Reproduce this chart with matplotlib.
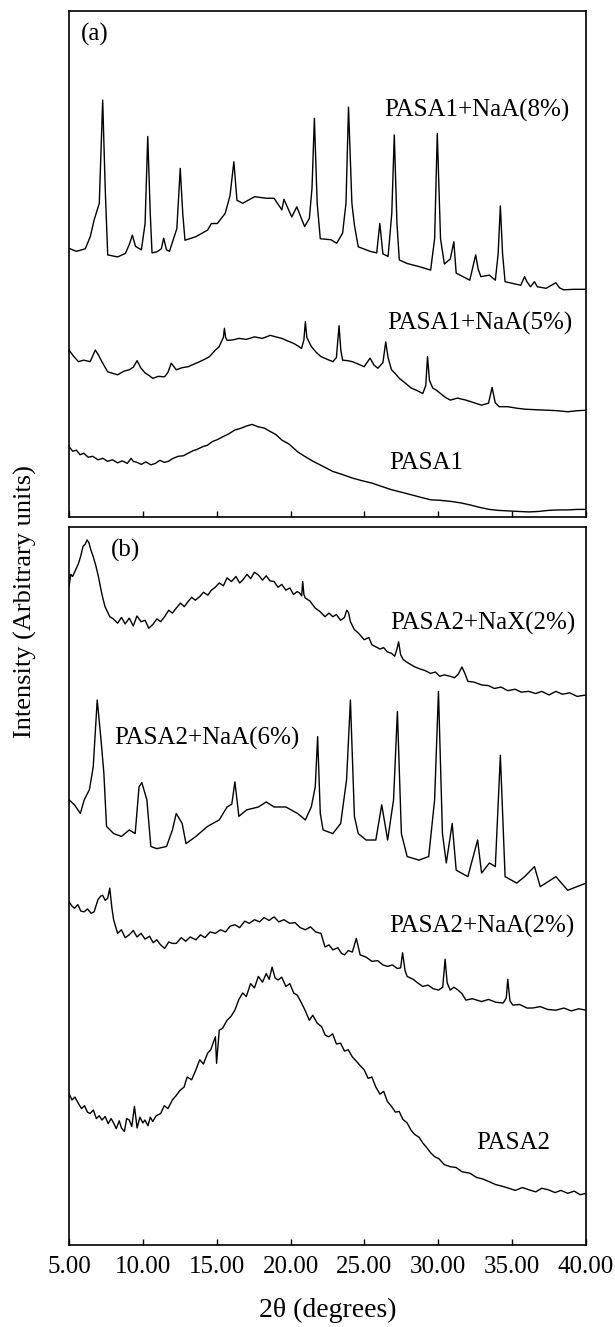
import matplotlib
matplotlib.use("Agg")
from matplotlib import pyplot as plt
from matplotlib.ticker import FormatStrFormatter

plt.rcParams['font.family'] = ['Liberation Serif', 'DejaVu Serif']

# panel (a)
a8_x = [5.00, 5.50, 6.10, 6.45, 6.70, 7.05, 7.28, 7.45, 7.62, 8.29, 8.82, 9.10, 9.29, 9.50, 9.90,
        10.15, 10.33, 10.50, 10.62, 10.94, 11.25, 11.41, 11.60, 11.80, 12.30, 12.53, 12.70, 12.85,
        13.59, 14.38, 14.64, 15.04, 15.57, 15.90, 16.16, 16.37, 16.76, 17.56, 18.35, 18.88, 19.41,
        19.55, 20.08, 20.42, 20.95, 21.27, 21.45, 21.61, 21.80, 22.01, 22.73, 23.12, 23.52, 23.75,
        23.92, 24.15, 24.32, 24.58, 25.38, 25.83, 26.04, 26.25, 26.60, 26.85, 27.02, 27.20, 27.36,
        27.89, 28.69, 29.48, 29.75, 29.93, 30.15, 30.41, 30.81, 31.05, 31.21, 32.13, 32.53, 32.70,
        32.88, 33.46, 33.86, 34.05, 34.20, 34.35, 34.52, 35.58, 35.84, 36.00, 36.24, 36.51, 36.70,
        37.30, 37.96, 38.20, 38.49, 39.20, 40.00]
a8_y = [53.1, 52.5, 53.0, 55.5, 58.7, 62.0, 82.4, 65.0, 51.8, 51.4, 52.1, 54.0, 55.7, 53.5, 52.8,
        58.0, 75.2, 60.0, 52.2, 52.4, 53.0, 55.1, 52.8, 52.5, 57.0, 68.9, 60.0, 54.7,
        55.4, 56.7, 58.0, 58.0, 60.0, 63.5, 70.2, 62.6, 62.0, 63.3, 63.0, 63.0, 60.7,
        62.8, 59.3, 61.3, 57.4, 59.0, 65.0, 78.8, 62.0, 55.0, 54.8, 54.1, 56.1, 62.0,
        81.0, 62.0, 57.7, 53.4, 52.5, 52.2, 58.0, 52.0, 51.5, 60.0, 75.5, 58.0, 50.8,
        50.1, 49.5, 48.8, 55.0, 75.8, 55.0, 50.0, 51.0, 54.4, 48.2, 46.8, 51.8, 49.0,
        47.5, 47.8, 46.8, 52.0, 61.5, 52.0, 46.5, 45.8, 47.5, 46.5, 45.5, 46.5, 45.5,
        45.2, 46.3, 45.3, 44.9, 45.0, 45.0]

a5_x = [5.00, 5.30, 5.64, 6.00, 6.43, 6.60, 6.78, 7.00, 7.17, 7.40,
        7.62, 7.95, 8.29, 8.70, 9.08, 9.35, 9.61, 9.85, 10.14, 10.40,
        10.67, 11.05, 11.47, 11.70, 11.92, 12.26, 12.65, 13.06, 13.45, 13.85,
        14.20, 14.51, 14.91, 15.15, 15.31, 15.45, 15.52, 15.60, 15.70, 16.10,
        16.50, 17.00, 17.56, 18.10, 18.62, 19.00, 19.41, 19.80, 20.21, 20.50,
        20.74, 20.90, 21.00, 21.10, 21.40, 21.75, 22.06, 22.45, 22.86, 23.10,
        23.28, 23.40, 23.52, 23.85, 24.18, 24.60, 24.98, 25.38, 25.65, 25.91,
        26.25, 26.44, 26.60, 26.83, 27.10, 27.36, 27.75, 28.16, 28.55, 28.95,
        29.15, 29.27, 29.40, 29.62, 29.90, 30.15, 30.50, 30.81, 31.30, 31.87,
        32.40, 32.93, 33.40, 33.64, 33.85, 34.12, 34.70, 35.31, 35.90, 36.60,
        37.43, 38.10, 38.76, 39.40, 40.00]
a5_y = [33.0, 31.8, 30.7, 31.0, 30.7, 31.8, 33.0, 32.0, 31.0, 29.8,
        28.7, 28.4, 28.1, 28.8, 29.1, 29.6, 30.9, 29.5, 28.5, 28.0,
        27.4, 27.8, 27.7, 28.6, 30.4, 29.1, 29.5, 29.7, 30.2, 30.7,
        31.2, 31.7, 33.0, 33.6, 34.6, 35.5, 37.3, 35.5, 34.9, 35.0,
        35.3, 35.1, 35.6, 35.3, 35.9, 35.6, 35.3, 34.8, 34.3, 33.8,
        33.3, 35.0, 38.6, 35.5, 33.7, 32.5, 31.7, 31.2, 30.7, 31.5,
        37.8, 33.0, 31.0, 30.9, 30.7, 30.2, 29.7, 31.4, 30.0, 29.4,
        30.5, 34.6, 31.5, 29.1, 28.3, 27.4, 26.5, 25.5, 25.0, 24.4,
        26.0, 31.7, 27.0, 25.5, 25.0, 24.4, 23.6, 23.1, 23.5, 23.1,
        22.6, 22.1, 22.5, 25.6, 22.6, 21.8, 21.8, 21.5, 21.3, 21.2,
        21.1, 21.0, 20.8, 21.0, 21.1]

a1_x = [5.00, 5.25, 5.50, 5.75, 6.00, 6.30, 6.60, 6.96, 7.30, 7.60,
        7.95, 8.29, 8.60, 8.95, 9.20, 9.35, 9.60, 9.90, 10.20, 10.54,
        10.85, 11.15, 11.45, 11.73, 12.05, 12.40, 12.75, 13.06, 13.40, 13.70,
        14.05, 14.38, 14.70, 15.05, 15.44, 15.80, 16.23, 16.60, 17.03, 17.40,
        17.82, 18.20, 18.62, 19.00, 19.41, 19.90, 20.47, 21.00, 21.53, 22.20,
        22.86, 23.50, 24.18, 24.80, 25.51, 26.20, 26.83, 27.50, 28.16, 28.80,
        29.48, 30.10, 30.81, 31.50, 32.13, 32.80, 33.46, 34.10, 34.78, 35.40,
        36.11, 36.80, 37.43, 38.10, 38.76, 39.40, 40.00]
a1_y = [13.9, 13.0, 13.2, 12.3, 12.6, 11.8, 12.0, 11.3, 11.6, 11.0,
        11.3, 10.7, 11.1, 10.6, 11.6, 11.0, 10.8, 10.4, 10.9, 10.3,
        10.6, 11.2, 10.8, 11.0, 11.6, 12.0, 12.1, 12.6, 13.1, 13.4,
        13.9, 14.2, 14.9, 15.3, 15.9, 16.4, 17.2, 17.5, 18.0, 18.3,
        17.8, 17.6, 16.9, 16.3, 15.2, 14.4, 12.9, 11.9, 11.0, 10.0,
        9.0, 8.4, 7.7, 7.2, 6.7, 6.0, 5.4, 4.9, 4.4, 3.9,
        3.4, 3.3, 3.1, 2.8, 2.4, 1.9, 1.5, 1.3, 1.2, 1.1,
        1.0, 1.1, 1.3, 1.4, 1.4, 1.5, 1.5]

# panel (b)
bx_x = [5.00, 5.12, 5.24, 5.40, 5.64, 5.80, 5.95, 6.10, 6.22, 6.35,
        6.48, 6.65, 6.83, 7.00, 7.17, 7.30, 7.44, 7.60, 7.76, 8.00,
        8.29, 8.55, 8.80, 9.08, 9.35, 9.60, 9.88, 10.15, 10.40, 10.67,
        10.95, 11.20, 11.47, 11.75, 12.00, 12.26, 12.55, 12.80, 13.06, 13.30,
        13.55, 13.85, 14.10, 14.40, 14.64, 14.90, 15.17, 15.45, 15.70, 16.00,
        16.30, 16.55, 16.76, 17.05, 17.30, 17.55, 17.82, 18.10, 18.35, 18.60,
        18.88, 19.15, 19.40, 19.68, 19.95, 20.20, 20.45, 20.61, 20.75, 20.82,
        20.90, 21.00, 21.30, 21.67, 22.00, 22.33, 22.60, 22.86, 23.10, 23.39,
        23.65, 23.80, 23.92, 24.05, 24.32, 24.60, 24.98, 25.30, 25.50, 25.77,
        26.05, 26.30, 26.55, 26.83, 27.05, 27.20, 27.31, 27.45, 27.63, 28.00,
        28.42, 28.80, 29.10, 29.48, 29.80, 30.10, 30.40, 30.81, 31.10, 31.35,
        31.60, 31.80, 32.00, 32.40, 32.93, 33.40, 33.80, 34.25, 34.70, 35.20,
        35.60, 36.11, 36.60, 37.00, 37.50, 37.96, 38.40, 38.90, 39.40, 40.00]
bx_y = [91.7, 93.4, 93.1, 93.8, 94.9, 96.0, 97.3, 97.6, 98.2, 97.8,
        96.8, 95.8, 94.5, 93.0, 91.2, 90.0, 88.9, 88.2, 87.5, 87.2,
        86.6, 87.4, 86.5, 87.3, 86.2, 87.6, 86.8, 87.0, 85.9, 86.4,
        87.2, 86.8, 87.5, 88.4, 88.0, 88.7, 89.4, 88.9, 89.6, 90.2,
        89.8, 90.3, 90.9, 90.5, 91.2, 91.6, 92.2, 91.8, 92.9, 92.4,
        93.1, 92.2, 92.6, 93.4, 92.8, 93.7, 93.3, 92.6, 93.2, 92.5,
        92.4, 91.6, 92.0, 91.2, 91.5, 90.6, 91.0, 90.8, 90.4, 92.4,
        90.6, 90.1, 89.7, 88.7, 88.2, 87.5, 88.0, 87.5, 87.8, 87.0,
        87.4, 88.4, 88.1, 86.8, 85.7, 85.2, 84.3, 84.6, 83.6, 83.3,
        83.0, 83.2, 82.6, 82.4, 82.0, 83.0, 84.0, 82.2, 81.5, 81.0,
        80.5, 80.2, 80.0, 79.6, 79.8, 79.2, 79.4, 79.2, 79.0, 79.5,
        80.5, 79.6, 78.5, 78.4, 78.0, 77.9, 77.5, 77.7, 77.2, 77.4,
        77.0, 77.1, 76.8, 77.1, 76.6, 77.1, 76.7, 76.9, 76.4, 76.6]

b6_x = [5.00, 5.37, 5.77, 6.03, 6.38, 6.64, 6.91, 7.17, 7.36, 7.54, 8.02, 8.55, 9.08, 9.48, 9.74,
        9.93, 10.27, 10.54, 10.94, 11.60, 12.00, 12.26, 12.66, 12.92, 13.59, 14.38, 15.17, 15.70,
        16.02, 16.23, 16.50, 17.03, 17.82, 18.35, 18.88, 19.68, 20.47, 21.00, 21.40, 21.67, 21.83,
        22.01, 22.20, 22.86, 23.39, 23.79, 24.05, 24.32, 24.58, 25.11, 25.77, 26.17, 26.57, 26.97,
        27.23, 27.50, 27.89, 28.69, 29.35, 29.75, 30.01, 30.28, 30.54, 30.94, 31.21, 32.00, 32.66,
        32.93, 33.46, 33.86, 34.20, 34.52, 35.31, 35.84, 36.51, 36.90, 37.96, 38.76, 40.00]
b6_y = [62.0, 61.3, 60.1, 62.0, 63.4, 66.6, 75.9, 70.3, 65.7, 58.3, 57.3, 56.9, 57.8, 57.3, 63.8,
        64.4, 62.0, 55.5, 55.2, 55.5, 57.8, 60.1, 58.7, 55.9, 56.9, 58.3, 59.2, 61.0,
        61.4, 64.5, 59.7, 60.6, 61.0, 61.7, 61.0, 61.0, 60.1, 59.2, 61.0, 63.8, 70.8,
        60.1, 57.8, 57.3, 58.7, 64.8, 75.9, 59.7, 57.3, 56.4, 56.4, 61.3, 56.4, 62.0,
        74.3, 57.3, 54.1, 53.6, 54.1, 62.0, 77.1, 57.3, 53.2, 58.7, 52.2, 51.3, 56.4,
        51.8, 53.2, 52.7, 68.2, 51.3, 50.4, 51.3, 52.7, 49.9, 51.3, 49.4, 50.4]

b2_x = [5.00, 5.20, 5.37, 5.60, 5.80, 6.03, 6.25, 6.50, 6.70, 6.96,
        7.15, 7.28, 7.45, 7.62, 7.76, 7.90, 8.02, 8.29, 8.55, 8.80,
        9.08, 9.35, 9.60, 9.88, 10.15, 10.45, 10.70, 10.94, 11.20, 11.47,
        11.75, 12.00, 12.26, 12.60, 12.90, 13.20, 13.59, 13.90, 14.20, 14.55,
        14.91, 15.25, 15.60, 15.90, 16.23, 16.55, 16.90, 17.20, 17.56, 17.90,
        18.20, 18.55, 18.88, 19.20, 19.55, 19.94, 20.30, 20.65, 21.00, 21.35,
        21.70, 22.06, 22.33, 22.60, 22.86, 23.20, 23.45, 23.65, 23.90, 24.18,
        24.45, 24.71, 25.10, 25.51, 25.90, 26.25, 26.57, 26.90, 27.23, 27.45,
        27.58, 27.75, 27.89, 28.30, 28.60, 28.95, 29.30, 29.65, 30.01, 30.30,
        30.46, 30.60, 30.81, 31.05, 31.34, 31.60, 31.87, 32.30, 32.93, 33.40,
        33.90, 34.39, 34.60, 34.70, 34.85, 35.05, 35.50, 36.00, 36.37, 36.90,
        37.40, 37.96, 38.50, 39.00, 39.50, 40.00]
b2_y = [47.8, 47.2, 46.9, 47.4, 46.5, 46.4, 46.8, 46.2, 46.4, 48.1,
        48.6, 48.7, 48.0, 48.3, 49.7, 47.0, 45.3, 43.4, 43.9, 42.8,
        43.2, 43.8, 42.9, 43.4, 42.6, 43.0, 42.1, 42.5, 41.8, 41.3,
        42.2, 42.0, 42.0, 42.8, 42.3, 42.9, 42.5, 43.2, 42.8, 43.6,
        43.4, 43.9, 43.6, 44.4, 44.6, 44.2, 45.1, 44.8, 45.3, 45.0,
        45.6, 45.2, 45.7, 45.0, 45.3, 44.8, 44.9, 44.2, 43.9, 44.3,
        43.6, 43.4, 41.5, 41.8, 41.1, 41.4, 40.6, 40.4, 41.0, 40.8,
        42.7, 40.4, 40.1, 39.5, 39.6, 39.0, 38.8, 39.0, 38.5, 38.6,
        40.7, 38.2, 37.4, 37.0, 36.5, 36.0, 36.2, 35.7, 35.5, 35.9,
        39.8, 36.5, 35.5, 35.9, 35.5, 35.0, 34.1, 34.3, 33.9, 34.2,
        33.8, 33.7, 34.4, 37.0, 34.0, 33.4, 33.5, 33.0, 33.0, 33.2,
        32.8, 32.7, 33.0, 32.6, 32.9, 32.7]

b0_x = [5.00, 5.20, 5.40, 5.64, 5.85, 6.05, 6.25, 6.43, 6.65, 6.85,
        7.05, 7.23, 7.45, 7.65, 7.85, 8.02, 8.20, 8.40, 8.55, 8.75,
        8.90, 9.08, 9.25, 9.43, 9.61, 9.80, 10.00, 10.14, 10.35, 10.50,
        10.67, 10.90, 11.20, 11.45, 11.70, 12.00, 12.25, 12.50, 12.79, 13.00,
        13.30, 13.59, 13.85, 14.10, 14.38, 14.60, 14.80, 14.91, 14.99, 15.17,
        15.40, 15.70, 15.95, 16.23, 16.50, 16.76, 17.00, 17.29, 17.55, 17.82,
        18.10, 18.35, 18.55, 18.75, 18.95, 19.15, 19.40, 19.68, 19.95, 20.21,
        20.45, 20.74, 21.00, 21.27, 21.50, 21.80, 22.10, 22.35, 22.59, 22.85,
        23.10, 23.39, 23.65, 23.90, 24.18, 24.45, 24.70, 24.98, 25.25, 25.50,
        25.77, 26.05, 26.30, 26.55, 26.83, 27.10, 27.35, 27.60, 27.89, 28.15,
        28.40, 28.70, 28.95, 29.20, 29.50, 29.75, 30.05, 30.40, 30.81, 31.20,
        31.60, 32.13, 32.60, 33.00, 33.46, 33.90, 34.30, 34.78, 35.20, 35.70,
        36.11, 36.60, 37.00, 37.43, 37.90, 38.30, 38.76, 39.20, 39.60, 40.00]
b0_y = [21.1, 20.2, 20.6, 19.7, 19.0, 19.4, 18.5, 18.3, 18.8, 17.6,
        18.0, 17.4, 17.9, 16.9, 17.6, 17.0, 16.2, 17.3, 16.3, 15.8,
        17.6, 17.4, 16.5, 19.3, 16.3, 17.8, 17.0, 17.4, 16.6, 17.8,
        17.2, 18.0, 18.3, 19.4, 19.0, 20.2, 20.8, 21.5, 22.0, 23.4,
        23.0, 24.4, 25.8, 25.2, 26.7, 27.2, 28.4, 29.0, 25.3, 29.9,
        30.2, 31.3, 31.8, 32.7, 34.2, 35.1, 34.6, 36.4, 35.8, 37.4,
        36.6, 37.8, 37.0, 38.7, 37.2, 36.9, 37.3, 36.0, 36.4, 35.1,
        34.8, 33.7, 32.6, 31.3, 32.0, 30.9, 30.4, 29.2, 29.0, 29.4,
        28.0, 28.1, 27.0, 27.2, 26.2, 25.6, 25.0, 24.4, 23.2, 23.4,
        22.0, 21.0, 21.4, 20.0, 19.3, 18.5, 18.6, 17.5, 17.0, 16.0,
        15.4, 15.0, 14.2, 13.6, 12.8, 12.3, 12.0, 11.2, 10.9, 10.8,
        10.2, 10.0, 9.4, 9.2, 8.8, 8.4, 8.2, 7.9, 7.6, 8.0,
        7.7, 7.4, 7.9, 7.7, 7.3, 7.6, 7.2, 7.5, 7.0, 7.2]

xticks = [5, 10, 15, 20, 25, 30, 35, 40]

fig = plt.figure(figsize=(6.15, 13.27), dpi=100)
ax_a = fig.add_axes([0.1122, 0.6104, 0.8407, 0.3813])
ax_b = fig.add_axes([0.1122, 0.0618, 0.8407, 0.5411])

for ax in (ax_a, ax_b):
    ax.set_xlim(5, 40)
    ax.set_ylim(0, 100)
    ax.set_xticks(xticks)
    ax.xaxis.set_major_formatter(FormatStrFormatter('%.2f'))
    ax.set_yticks([])
    ax.tick_params(axis='x', direction='in', length=4, width=1, labelsize=18, pad=8)
    for s in ax.spines.values():
        s.set_linewidth(1.2)

ax_a.tick_params(axis='x', labelbottom=False)

lw = 1.0
ax_a.plot(a8_x, a8_y, color='black', lw=lw)
ax_a.plot(a5_x, a5_y, color='black', lw=lw)
ax_a.plot(a1_x, a1_y, color='black', lw=lw)
ax_a.text(6.76, 95.3, '(a)', fontsize=18, ha='center', va='center')
ax_a.text(38.9, 80.4, 'PASA1+NaA(8%)', fontsize=18, ha='right', va='center')
ax_a.text(39.05, 38.3, 'PASA1+NaA(5%)', fontsize=18, ha='right', va='center')
ax_a.text(29.2, 10.7, 'PASA1', fontsize=18, ha='center', va='center')

ax_b.plot(bx_x, bx_y, color='black', lw=lw)
ax_b.plot(b6_x, b6_y, color='black', lw=lw)
ax_b.plot(b2_x, b2_y, color='black', lw=lw)
ax_b.plot(b0_x, b0_y, color='black', lw=lw)
ax_b.text(8.85, 96.7, '(b)', fontsize=18, ha='center', va='center')
ax_b.text(39.3, 86.6, 'PASA2+NaX(2%)', fontsize=18, ha='right', va='center')
ax_b.text(8.04, 70.6, 'PASA2+NaA(6%)', fontsize=18, ha='left', va='center')
ax_b.text(39.2, 44.3, 'PASA2+NaA(2%)', fontsize=18, ha='right', va='center')
ax_b.text(35.1, 14.2, 'PASA2', fontsize=18, ha='center', va='center')

ax_b.set_xlabel('2θ (degrees)', fontsize=20, labelpad=14)
fig.text(0.042, 1 - 602 / 1327, 'Intensity (Arbitrary units)', rotation=90,
         fontsize=19, ha='center', va='center')

fig.savefig('out.png', dpi=100)
